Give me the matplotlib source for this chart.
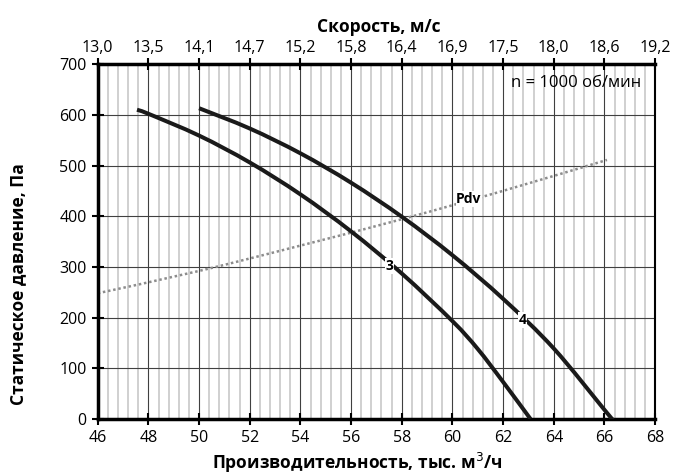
import matplotlib.pyplot as plt
import numpy as np
from matplotlib.path import Path
from matplotlib.patches import PathPatch

plt.rcParams['font.family'] = ['Open Sans', 'DejaVu Sans']

# Curve 3 (flow, thousand m3/h ; static pressure, Pa)
q3 = [47.55, 48.0, 50.0, 52.0, 54.0, 56.0, 58.0, 60.0, 61.0, 62.0, 63.08]
p3 = [610, 602, 559, 506, 443, 370, 287, 193, 138, 73, 0]

# Curve 4
q4 = [50.0, 52.0, 54.0, 56.0, 58.0, 60.0, 62.0, 64.0, 66.0, 66.3]
p4 = [613, 573, 524, 466, 399, 323, 237, 139, 18, 0]

# Dynamic pressure line
q_pdv = [46, 50, 54, 58, 62, 66.1]
p_pdv = [248, 292, 342, 394, 450, 511]

x_ticks = [46, 48, 50, 52, 54, 56, 58, 60, 62, 64, 66, 68]
speed_labels = ['13,0', '13,5', '14,1', '14,7', '15,2', '15,8',
                '16,4', '16,9', '17,5', '18,0', '18,6', '19,2']
y_ticks = [0, 100, 200, 300, 400, 500, 600, 700]


def smooth_curve(ax, x, y, **kw):
    # Excel-style smoothed line: Catmull-Rom segments drawn as cubic Beziers
    pts = np.column_stack([x, y]).astype(float)
    verts = [pts[0]]
    codes = [Path.MOVETO]
    n = len(pts)
    for i in range(n - 1):
        p0 = pts[max(i - 1, 0)]
        p1 = pts[i]
        p2 = pts[i + 1]
        p3 = pts[min(i + 2, n - 1)]
        verts += [p1 + (p2 - p0) / 6, p2 - (p3 - p1) / 6, p2]
        codes += [Path.CURVE4] * 3
    patch = PathPatch(Path(verts, codes), facecolor='none', **kw)
    ax.add_patch(patch)


fig = plt.figure(figsize=(6.74, 4.75), dpi=100)
ax = fig.add_axes([0.145, 0.118, 0.827, 0.747])

ax.set_xlim(46, 68)
ax.set_ylim(0, 700)

# grid: light minor verticals, dark majors
ax.set_xticks(np.arange(46, 68.01, 0.4), minor=True)
ax.set_xticks(x_ticks)
ax.set_yticks(y_ticks)
ax.grid(which='minor', axis='x', color='#c8c8c8', lw=1.2)
ax.grid(which='major', axis='both', color='#404040', lw=0.8)
ax.tick_params(which='minor', length=0)
ax.tick_params(which='major', direction='inout', length=8, width=1.5,
               labelsize=11.5, colors='black', pad=4)

smooth_curve(ax, q3, p3, edgecolor='#1a1a1a', lw=2.9, capstyle='butt',
             joinstyle='round', zorder=3)
smooth_curve(ax, q4, p4, edgecolor='#1a1a1a', lw=2.9, capstyle='butt',
             joinstyle='round', zorder=3)
smooth_curve(ax, q_pdv, p_pdv, edgecolor='#8c8c8c', lw=1.8,
             linestyle=(0, (1, 1.1)), zorder=2)

box = dict(facecolor='white', edgecolor='none', pad=0.5)
ax.text(57.53, 302, '3', fontsize=10, fontweight='bold', ha='center',
        va='center', bbox=box, zorder=4)
ax.text(62.76, 195, '4', fontsize=10, fontweight='bold', ha='center',
        va='center', bbox=box, zorder=4)
ax.text(60.65, 434, 'Pdv', fontsize=10, fontweight='bold', ha='center',
        va='center', bbox=box, zorder=4)
ax.text(64.9, 663, 'n = 1000 об/мин', fontsize=12, ha='center', va='center',
        zorder=4)

for s in ['left', 'bottom', 'top']:
    ax.spines[s].set_linewidth(2.5)
ax.spines['right'].set_linewidth(1.5)

ax2 = ax.twiny()
ax2.set_xlim(46, 68)
ax2.set_xticks(x_ticks)
ax2.set_xticklabels(speed_labels)
ax2.tick_params(direction='inout', length=8, width=1.5, labelsize=11.5, pad=2)
for s in ax2.spines.values():
    s.set_visible(False)

fig.text(357 / 674, 1 - 463 / 475, 'Производительность, тыс. м$^3$/ч',
         fontsize=12.5, fontweight='bold', ha='center', va='center')
fig.text(18 / 674, 1 - 284 / 475, 'Статическое давление, Па', rotation=90,
         fontsize=12.5, fontweight='bold', ha='center', va='center')
fig.text(379 / 674, 1 - 27 / 475, 'Скорость, м/с',
         fontsize=12.5, fontweight='bold', ha='center', va='center')

fig.savefig('out.png', dpi=100)
